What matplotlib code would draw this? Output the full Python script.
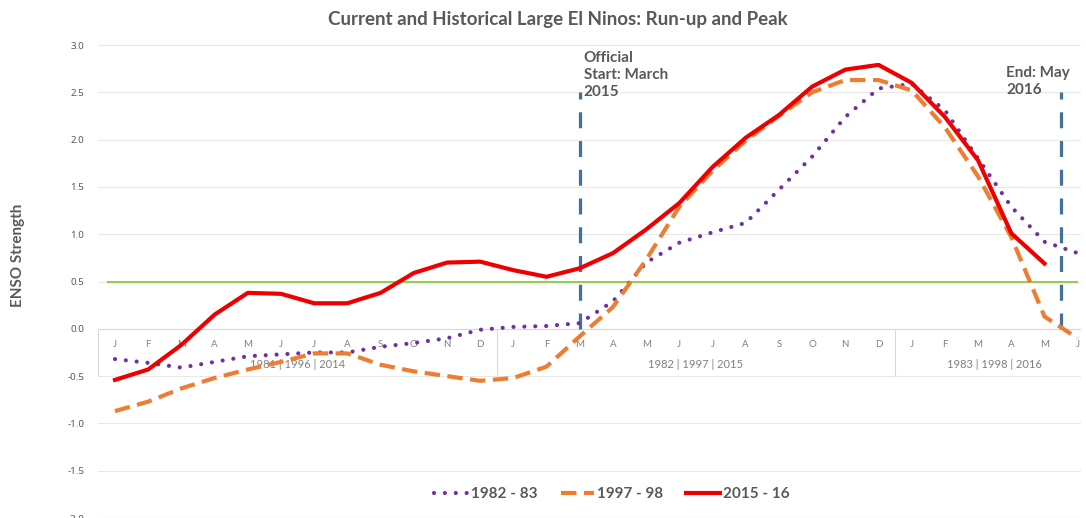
import matplotlib
matplotlib.use("Agg")
import matplotlib.pyplot as plt
from matplotlib.lines import Line2D

plt.rcParams["font.family"] = ["Lato", "DejaVu Sans"]
plt.rcParams["axes.unicode_minus"] = False

# data
months = ["J", "F", "M", "A", "M", "J", "J", "A", "S", "O", "N", "D",
          "J", "F", "M", "A", "M", "J", "J", "A", "S", "O", "N", "D",
          "J", "F", "M", "A", "M", "J"]
year_groups = ["1981 | 1996 | 2014", "1982 | 1997 | 2015", "1983 | 1998 | 2016"]
group_sizes = [12, 12, 6]

enso_1982 = [-0.32, -0.36, -0.41, -0.35, -0.29, -0.27, -0.25, -0.25, -0.19, -0.15,
             -0.10, -0.01, 0.02, 0.03, 0.06, 0.29, 0.70, 0.91, 1.02, 1.12,
             1.47, 1.82, 2.24, 2.54, 2.59, 2.31, 1.80, 1.29, 0.92, 0.80]
enso_1997 = [-0.87, -0.77, -0.63, -0.52, -0.43, -0.35, -0.26, -0.26, -0.38, -0.45,
             -0.50, -0.55, -0.52, -0.40, -0.08, 0.23, 0.73, 1.29, 1.67, 1.99,
             2.25, 2.50, 2.63, 2.63, 2.52, 2.13, 1.61, 0.97, 0.13, -0.10]
enso_2015 = [-0.54, -0.43, -0.17, 0.15, 0.38, 0.37, 0.27, 0.27, 0.38, 0.59,
             0.70, 0.71, 0.62, 0.55, 0.64, 0.80, 1.05, 1.33, 1.71, 2.02,
             2.26, 2.56, 2.74, 2.79, 2.60, 2.24, 1.78, 1.01, 0.69]

threshold = 0.5
start_idx = 14      # March 2015
end_idx = 28.5      # after May 2016
marker_top = 2.5

gray = "#595959"

fig = plt.figure(figsize=(10.86, 5.18), dpi=100)
ax = fig.add_axes([0.0906, 0.0, 0.9048, 0.9131])
ax.set_xlim(-0.5, 29.1)
ax.set_ylim(-2.0, 3.0)

for s in ax.spines.values():
    s.set_visible(False)
ax.set_xticks([])
ax.set_yticks([-2.0, -1.5, -1.0, -0.5, 0.0, 0.5, 1.0, 1.5, 2.0, 2.5, 3.0])
ax.set_yticklabels(["%.1f" % v for v in ax.get_yticks()], family="Noto Sans")
ax.tick_params(axis="y", length=0, pad=10, labelsize=7, labelcolor=gray)
ax.grid(axis="y", color="#e8e8e8", lw=0.8)
ax.set_axisbelow(True)

# category axis box
ax.axhline(0, color="#d9d9d9", lw=0.8, zorder=1)
x = range(len(months))
for i, m in enumerate(months):
    ax.text(i, -0.17, m, ha="center", va="center", fontsize=7, color="#7f7f7f")
pos = -0.5
ax.vlines(pos, -0.5, 0, color="#d9d9d9", lw=0.8)
for name, n in zip(year_groups, group_sizes):
    ax.text(pos + n / 2, -0.38, name, ha="center", va="center", fontsize=8, color="#7f7f7f")
    pos += n
    if pos < len(months) - 0.5:
        ax.vlines(pos, -0.5, 0, color="#d9d9d9", lw=0.8)

# threshold and start/end markers
ax.axhline(threshold, xmin=0.01, xmax=0.996, color="#92d050", lw=1.5, zorder=2)
ax.vlines([start_idx, end_idx], 0, marker_top, color="#41719c", lw=2.3,
          linestyles=(0, (5, 4)), zorder=3)
ax.text(start_idx + 0.12, 2.94, "Official\nStart: March\n2015", ha="left", va="top",
        fontsize=11, fontweight="bold", color=gray, linespacing=1.3)
ax.text(end_idx - 1.65, 2.78, "End: May\n2016", ha="left", va="top",
        fontsize=11, fontweight="bold", color=gray, linespacing=1.25)

# series
ax.plot(x, enso_1982, color="#7030a0", lw=3, linestyle=(0, (0.01, 2.6)),
        dash_capstyle="round", zorder=4)
ax.plot(x, enso_1997, color="#ed7d31", lw=3, linestyle=(0, (3.7, 1.8)),
        dash_capstyle="butt", zorder=5)
ax.plot(range(len(enso_2015)), enso_2015, color="#ee0000", lw=3, zorder=6,
        solid_joinstyle="round")

fig.text(558 / 1086, 1 - 20 / 518, "Current and Historical Large El Ninos: Run-up and Peak",
         ha="center", va="center", fontsize=13.5, fontweight="bold", color=gray)
fig.text(18 / 1086, 1 - 255 / 518, "ENSO Strength", rotation=90, ha="center", va="center",
         fontsize=11, fontweight="bold", color=gray)

handles = [
    Line2D([], [], color="#7030a0", lw=3, linestyle=(0, (0.01, 2.6)), dash_capstyle="round"),
    Line2D([], [], color="#ed7d31", lw=3, linestyle=(0, (3.7, 1.8))),
    Line2D([], [], color="#ee0000", lw=3),
]
leg = fig.legend(handles, ["1982 - 83", "1997 - 98", "2015 - 16"], ncol=3,
                 loc="center", bbox_to_anchor=(612 / 1086, 1 - 494 / 518), frameon=False,
                 fontsize=11, handlelength=2.2, handletextpad=0.2, columnspacing=1.5)
for t in leg.get_texts():
    t.set_color(gray)
    t.set_fontweight("bold")

fig.savefig("out.png", dpi=100)
